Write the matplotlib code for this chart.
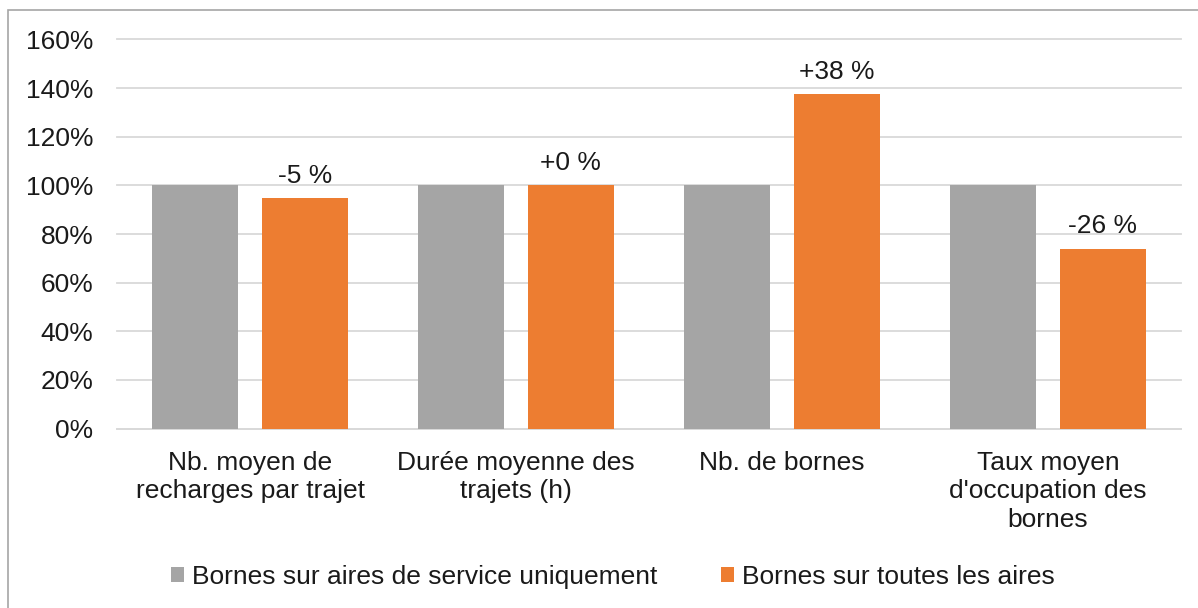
import numpy as np
import matplotlib
matplotlib.use('Agg')
import matplotlib.pyplot as plt
from matplotlib.patches import Rectangle, Patch

plt.rcParams['font.family'] = ['Liberation Sans', 'DejaVu Sans']

categories = ['Nb. moyen de\nrecharges par trajet', 'Durée moyenne des\ntrajets (h)',
              'Nb. de bornes', 'Taux moyen\nd\'occupation des\nbornes']
service_only = [100, 100, 100, 100]
all_areas = [94.8, 100, 137.6, 74.0]
labels = ['-5 %', '+0 %', '+38 %', '-26 %']
series_names = ['Bornes sur aires de service uniquement', 'Bornes sur toutes les aires']

gray = '#A5A5A5'
orange = '#ED7D31'
fs = 19

W, H = 1198, 608
fig = plt.figure(figsize=(W / 100, H / 100), dpi=100)
ax = fig.add_axes([117 / W, 1 - 428.5 / H, (1181 - 117) / W, (428.5 - 39.5) / H])

x = np.arange(len(categories))
bw = 0.323
off = 0.206
ax.bar(x - off, service_only, bw, color=gray, zorder=3)
ax.bar(x + off, all_areas, bw, color=orange, zorder=3)

for xi, v, t in zip(x, all_areas, labels):
    ax.annotate(t, (xi + off, v), xytext=(0, 11), textcoords='offset points',
                ha='center', va='baseline', fontsize=fs, color='#1a1a1a')

ax.set_xlim(-0.5, 3.5)
ax.set_ylim(0, 160)
ax.set_yticks(np.arange(0, 161, 20))
ax.set_yticklabels([f'{v}%' for v in range(0, 161, 20)], fontsize=fs, color='#1a1a1a')
ax.set_xticks(x)
ax.set_xticklabels(categories, fontsize=fs, color='#1a1a1a', linespacing=1.25, va='top')
ax.tick_params(axis='both', length=0)
ax.tick_params(axis='y', pad=17)
ax.tick_params(axis='x', pad=16)
ax.yaxis.grid(True, color='#D9D9D9', linewidth=1.3, zorder=0)
for gl in ax.get_ygridlines():
    gl.set_clip_on(False)
for s in ['top', 'right', 'left']:
    ax.spines[s].set_visible(False)
ax.spines['bottom'].set_color('#D9D9D9')
ax.spines['bottom'].set_linewidth(1.3)

# outer frame (only top and left edges visible in the original)
fig.patches.append(Rectangle((8 / W, -0.1), 1.2, 1 - 10 / H + 0.1, transform=fig.transFigure,
                             fill=False, edgecolor='#A6A6A6', linewidth=1.2))

handles = [Patch(facecolor=gray, label=series_names[0]),
           Patch(facecolor=orange, label=series_names[1])]
fig.legend(handles=handles, loc='center', bbox_to_anchor=(613 / W, 1 - 577 / H), ncol=2,
           frameon=False, fontsize=fs, handlelength=0.5, handleheight=0.5,
           handletextpad=0.3, columnspacing=2.4, labelcolor='#1a1a1a')

fig.savefig('out.png', dpi=100, facecolor='white')
